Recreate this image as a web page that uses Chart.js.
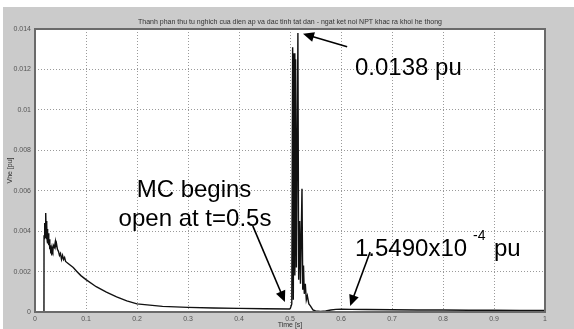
<!DOCTYPE html>
<html>
<head>
<meta charset="utf-8">
<script src="https://cdn.jsdelivr.net/npm/chart.js@4"></script>
<style>
  body { margin: 0; background: #fff; }
  #wrap { width: 574px; height: 329px; }
</style>
</head>
<body>
<div id="wrap"><canvas id="myChart" width="574" height="329"></canvas></div>
<script>
// time [s] and negative sequence voltage [pu]
let time = [
  0, 0.0176, 0.0177, 0.0185, 0.019, 0.0195, 0.02, 0.0205, 0.021, 0.0215,
  0.022, 0.0225, 0.023, 0.0235, 0.024, 0.0245, 0.025, 0.026, 0.027, 0.028,
  0.029, 0.03, 0.031, 0.032, 0.033, 0.034, 0.035, 0.036, 0.038, 0.04,
  0.041, 0.042, 0.044, 0.046, 0.048, 0.05, 0.052, 0.054, 0.056, 0.058,
  0.06, 0.065, 0.07, 0.075, 0.082, 0.09, 0.1, 0.12, 0.14, 0.16,
  0.18, 0.2, 0.25, 0.3, 0.35, 0.4, 0.45, 0.4995, 0.501, 0.5035, 0.5052,
  0.5065, 0.508, 0.5095, 0.511, 0.5125, 0.5155, 0.517, 0.519, 0.5205, 0.5235,
  0.525, 0.5265, 0.528, 0.53, 0.532, 0.534, 0.537, 0.54, 0.545, 0.55,
  0.56, 0.57, 0.58, 0.59, 0.6, 0.62, 0.65, 0.7, 0.75, 0.8,
  0.85, 0.9, 0.95, 1.0
];
let vhe = [
  0, 0, 0.0038, 0.0042, 0.0036, 0.0044, 0.0037, 0.0047, 0.004, 0.0049,
  0.0039, 0.0045, 0.0036, 0.0043, 0.0035, 0.0041, 0.0034, 0.0039, 0.0033, 0.0036,
  0.0031, 0.0033, 0.0029, 0.0031, 0.0028, 0.0031, 0.003, 0.0033, 0.0032, 0.0035,
  0.0033, 0.0034, 0.0031, 0.003, 0.0028, 0.0029, 0.0026, 0.0028, 0.0026, 0.0027,
  0.0025, 0.0024, 0.0023, 0.0022, 0.002, 0.0018, 0.0016, 0.00125, 0.00098, 0.00075,
  0.00055, 0.0004, 0.00028, 0.00023, 0.0002, 0.00018, 0.00016, 0.00015, 0.0002, 0.0004, 0.0131,
  0.0006, 0.0128, 0.0018, 0.0125, 0.0022, 0.0138, 0.0016, 0.0045, 0.0014, 0.0061,
  0.0011, 0.0023, 0.0009, 0.0014, 0.0006, 0.0008, 0.0004, 0.0003, 0.0001, 0.00005,
  0.00003, 0.00005, 0.0001, 0.00013, 0.00014, 0.00013, 0.00012, 0.00011, 0.0001, 0.0001,
  0.00009, 0.00009, 0.00008, 0.00008
];
let yTickLabels = ["0", "0.002", "0.004", "0.006", "0.008", "0.01", "0.012", "0.014"];
let xTickLabels = ["0", "0.1", "0.2", "0.3", "0.4", "0.5", "0.6", "0.7", "0.8", "0.9", "1"];

let title = "Thanh phan thu tu nghich cua dien ap va dac tinh tat dan - ngat ket noi NPT khac ra khoi he thong";

let points = time.map((t, i) => ({ x: t, y: vhe[i] }));

function arrow(ctx, x1, y1, x2, y2) {
  let a = Math.atan2(y2 - y1, x2 - x1);
  let len = 11, w = 5;
  ctx.beginPath();
  ctx.moveTo(x1, y1);
  ctx.lineTo(x2 - Math.cos(a) * len * 0.8, y2 - Math.sin(a) * len * 0.8);
  ctx.stroke();
  ctx.beginPath();
  ctx.moveTo(x2, y2);
  ctx.lineTo(x2 - Math.cos(a) * len - Math.sin(a) * w, y2 - Math.sin(a) * len + Math.cos(a) * w);
  ctx.lineTo(x2 - Math.cos(a) * len + Math.sin(a) * w, y2 - Math.sin(a) * len - Math.cos(a) * w);
  ctx.closePath();
  ctx.fill();
}

const frame = {
  id: "frame",
  beforeDraw(chart) {
    let ctx = chart.ctx, a = chart.chartArea;
    ctx.save();
    ctx.fillStyle = "#fff";
    ctx.fillRect(0, 0, chart.width, chart.height);
    ctx.fillStyle = "#cbcbcb";
    ctx.fillRect(3, 7, chart.width - 3, chart.height - 7);
    ctx.fillStyle = "#fff";
    ctx.fillRect(a.left, a.top, a.right - a.left, a.bottom - a.top);
    ctx.restore();
  },
  afterDraw(chart) {
    let ctx = chart.ctx, a = chart.chartArea;
    let xs = chart.scales.x, ys = chart.scales.y;
    ctx.save();
    // plot box
    ctx.strokeStyle = "#6a6a6a";
    ctx.lineWidth = 2;
    ctx.strokeRect(a.left, a.top, a.right - a.left, a.bottom - a.top);

    // title and axis labels
    ctx.fillStyle = "#333";
    ctx.font = '7px "Liberation Sans"';
    ctx.textAlign = "center";
    ctx.textBaseline = "alphabetic";
    ctx.fillText(title, (a.left + a.right) / 2, 24);
    ctx.fillText("Time [s]", (a.left + a.right) / 2, 327);
    ctx.translate(12, (a.top + a.bottom) / 2);
    ctx.rotate(-Math.PI / 2);
    ctx.fillText("Vhe [pu]", 0, 0);
    ctx.setTransform(1, 0, 0, 1, 0, 0);

    // annotations
    ctx.fillStyle = "#000";
    ctx.strokeStyle = "#000";
    ctx.lineWidth = 1.6;
    ctx.font = '24px "Liberation Sans"';
    ctx.textAlign = "left";
    ctx.fillText("0.0138 pu", 355, 75);
    ctx.textAlign = "center";
    ctx.fillText("MC begins", 194, 197);
    ctx.fillText("open at t=0.5s", 195, 226);
    ctx.textAlign = "left";
    ctx.fillText("1.5490x10", 355, 256);
    ctx.font = '14px "Liberation Sans"';
    ctx.fillText("-4", 473, 240);
    ctx.font = '24px "Liberation Sans"';
    ctx.fillText("pu", 494, 256);

    arrow(ctx, xs.getPixelForValue(0.612), ys.getPixelForValue(0.01312),
               xs.getPixelForValue(0.5255), ys.getPixelForValue(0.01376));
    arrow(ctx, xs.getPixelForValue(0.427), ys.getPixelForValue(0.00426),
               xs.getPixelForValue(0.490), ys.getPixelForValue(0.0005));
    arrow(ctx, xs.getPixelForValue(0.657), ys.getPixelForValue(0.00297),
               xs.getPixelForValue(0.618), ys.getPixelForValue(0.0003));
    ctx.restore();
  }
};

const config = {
  type: "line",
  data: {
    datasets: [
      {
        data: points,
        borderColor: "#111",
        borderWidth: 1.4,
        pointRadius: 0,
        tension: 0,
        fill: false,
      },
    ],
  },
  options: {
    responsive: false,
    animation: false,
    layout: { padding: { top: 29, right: 29, left: 0, bottom: 0 } },
    plugins: {
      legend: { display: false },
      tooltip: { enabled: false },
    },
    scales: {
      x: {
        type: "linear",
        min: 0,
        max: 1,
        afterFit: (s) => { s.height = 17; },
        afterBuildTicks: (s) => { s.ticks = xTickLabels.map((l) => ({ value: +l })); },
        ticks: {
          callback: (v, i) => xTickLabels[i],
          font: { size: 7, family: "Liberation Sans" },
          color: "#555",
          padding: 3,
          maxRotation: 0,
          autoSkip: false,
        },
        grid: { color: "#9a9a9a", drawTicks: false, lineWidth: 1 },
        border: { display: false, dash: [1, 2] },
      },
      y: {
        min: 0,
        max: 0.014,
        afterFit: (s) => { s.width = 35; },
        afterBuildTicks: (s) => { s.ticks = yTickLabels.map((l) => ({ value: +l })); },
        ticks: {
          callback: (v, i) => yTickLabels[i],
          font: { size: 7, family: "Liberation Sans" },
          color: "#555",
          padding: 4,
        },
        grid: { color: "#9a9a9a", drawTicks: false, lineWidth: 1 },
        border: { display: false, dash: [1, 2] },
      },
    },
  },
  plugins: [frame],
};

const myChart = new Chart(document.getElementById("myChart"), config);
</script>
</body>
</html>
